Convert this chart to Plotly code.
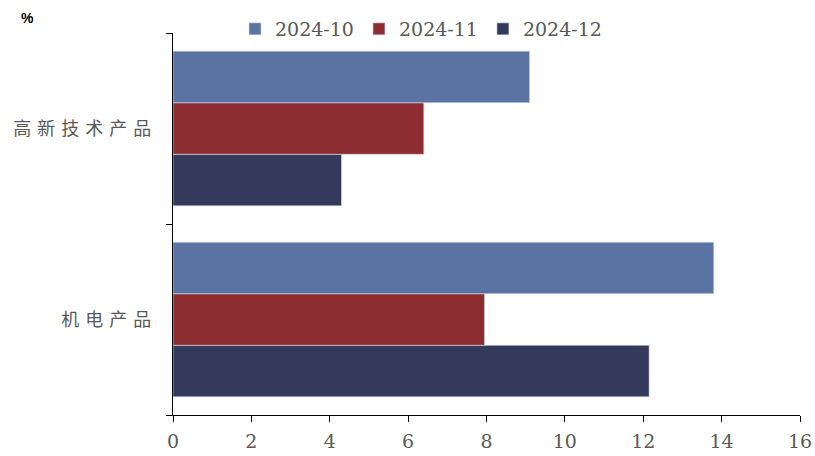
import plotly.graph_objects as go

# Categories (bottom to top on the y axis)
categories = ["机电产品", "高新技术产品"]

# Series values, %
months = ["2024-10", "2024-11", "2024-12"]
values = {
    "2024-10": [13.8, 9.1],
    "2024-11": [7.95, 6.4],
    "2024-12": [12.15, 4.3],
}
colors = {
    "2024-10": "#5B73A3",
    "2024-11": "#8E2D31",
    "2024-12": "#333A5C",
}
x_ticks = [0, 2, 4, 6, 8, 10, 12, 14, 16]

W, H = 815, 456
ML, MR, MT, MB = 173, 15, 33, 41
w_plot = W - ML - MR
h_plot = H - MT - MB

fig = go.Figure()
# Added last-first so the earliest month sits on top within each group
for m in reversed(months):
    fig.add_trace(go.Bar(
        y=categories,
        x=values[m],
        name=m,
        orientation="h",
        marker=dict(color=colors[m], line=dict(color="#D9DEE8", width=0.6)),
    ))

serif = dict(family="DejaVu Serif, Liberation Serif, serif", size=19, color="#595959")

fig.update_layout(
    width=W,
    height=H,
    margin=dict(l=ML, r=MR, t=MT, b=MB, autoexpand=False),
    paper_bgcolor="white",
    plot_bgcolor="white",
    barmode="group",
    bargap=0.19,
    bargroupgap=0,
    showlegend=True,
    legend=dict(
        orientation="h",
        traceorder="reversed",
        x=(235 - ML) / w_plot, xanchor="left",
        y=(H - MB - 29) / h_plot, yanchor="middle",
        font=serif,
        itemwidth=30,
        bgcolor="rgba(0,0,0,0)",
    ),
    xaxis=dict(
        range=[0, 16],
        tickvals=x_ticks,
        ticks="outside",
        ticklen=6,
        tickcolor="black",
        showline=True,
        linecolor="black",
        linewidth=1.2,
        showgrid=False,
        zeroline=False,
        tickfont=serif,
        ticklabelstandoff=3,
    ),
    yaxis=dict(
        type="category",
        tickson="boundaries",
        ticks="outside",
        ticklen=6,
        tickcolor="black",
        showline=True,
        linecolor="black",
        linewidth=1.2,
        showgrid=False,
        tickfont=dict(family="Noto Sans CJK SC, sans-serif", size=18, color="#595959"),
        tickvals=categories,
        ticktext=['<span style="letter-spacing:6px">%s</span>' % c for c in categories],
        ticklabelstandoff=11,
    ),
    annotations=[
        dict(
            text="<b>%</b>",
            x=(27 - ML) / w_plot, y=(H - MB - 18) / h_plot,
            xref="paper", yref="paper",
            xanchor="center", yanchor="middle",
            showarrow=False,
            font=dict(family="Liberation Sans, Arial, sans-serif", size=14, color="black"),
        )
    ],
)

fig.write_html("out.html")
